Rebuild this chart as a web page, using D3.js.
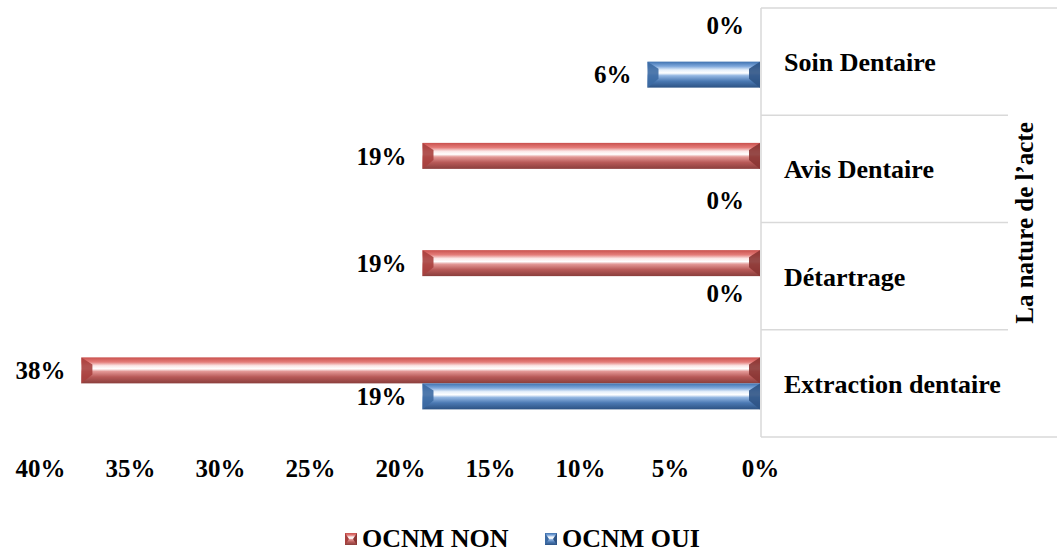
<!DOCTYPE html>
<html><head><meta charset="utf-8">
<script src="https://cdn.jsdelivr.net/npm/d3@7"></script>
<style>html,body{margin:0;padding:0;background:#fff;}svg{display:block;}</style>
</head><body>
<svg id="chart" width="1057" height="553"></svg>
<script>
const categories = ["Soin Dentaire", "Avis Dentaire", "Détartrage", "Extraction dentaire"];
const seriesNames = ["OCNM NON", "OCNM OUI"];
const valuesNON = [0, 0.1875, 0.1875, 0.377];
const valuesOUI = [0.0625, 0, 0, 0.1875];
const tickValues = [0, 0.05, 0.10, 0.15, 0.20, 0.25, 0.30, 0.35, 0.40];
const groupTitle = "La nature de l\u2019acte";

const svg = d3.select("#chart");
const FONT = "'Liberation Serif','Times New Roman',serif";
const W = 1057;

const x = d3.scaleLinear().domain([0, 0.4]).range([760, 40]);
const y = d3.scaleBand().domain(categories).range([8, 437]).padding(0);
const barH = 26;
const y1 = d3.scaleBand().domain(seriesNames)
  .range([y.bandwidth() / 2 - barH, y.bandwidth() / 2 + barH]).padding(0);

// gradients
const defs = svg.append("defs");
const pal = {
  "OCNM NON": {stops: [["0%","#c9504d"],["18%","#e47c79"],["32%","#fbe6e6"],["44%","#ffffff"],["54%","#e39896"],["75%","#b85a58"],["100%","#8a3e3c"]], cap: "#a8403e", cap2: "#8a3533"},
  "OCNM OUI": {stops: [["0%","#3f72b0"],["18%","#7fa8dc"],["32%","#e6f0fb"],["44%","#ffffff"],["54%","#94b7e2"],["75%","#4b79b3"],["100%","#2c5283"]], cap: "#3c6aa3", cap2: "#2d5385"}
};
seriesNames.forEach((s, i) => {
  const g = defs.append("linearGradient").attr("id", "g" + i)
    .attr("x1", 0).attr("y1", 0).attr("x2", 0).attr("y2", 1);
  pal[s].stops.forEach(st => g.append("stop").attr("offset", st[0]).attr("stop-color", st[1]));
});

// frame lines
const lineCol = "#d9d9d9";
svg.append("line").attr("x1", 761).attr("x2", W).attr("y1", 8).attr("y2", 8).attr("stroke", lineCol).attr("stroke-width", 1.5);
svg.append("line").attr("x1", 761).attr("x2", W).attr("y1", 437).attr("y2", 437).attr("stroke", lineCol).attr("stroke-width", 1.5);
svg.append("line").attr("x1", 761).attr("x2", 761).attr("y1", 8).attr("y2", 437).attr("stroke", lineCol).attr("stroke-width", 1.5);
categories.slice(1).forEach(c => {
  svg.append("line").attr("x1", 761).attr("x2", 1008).attr("y1", y(c)).attr("y2", y(c))
    .attr("stroke", lineCol).attr("stroke-width", 1.5);
});

// bars
const data = [];
categories.forEach((c, i) => {
  data.push({cat: c, s: seriesNames[0], si: 0, v: valuesNON[i]});
  data.push({cat: c, s: seriesNames[1], si: 1, v: valuesOUI[i]});
});

const bars = svg.append("g");
data.filter(d => d.v > 0).forEach(d => {
  const x0 = x(d.v), x1 = x(0);
  const y0 = y(d.cat) + y1(d.s), yb = y0 + barH;
  const b = 11;
  const g = bars.append("g");
  g.append("rect").attr("x", x0).attr("y", y0).attr("width", x1 - x0).attr("height", barH)
    .attr("fill", `url(#g${d.si})`);
  g.append("polygon").attr("points", [[x0, y0], [x0 + b, y0 + 7], [x0 + b, yb - 9], [x0, yb]].map(p => p.join(",")).join(" "))
    .attr("fill", pal[d.s].cap).attr("opacity", 0.9);
  g.append("polygon").attr("points", [[x1, y0], [x1 - b, y0 + 7], [x1 - b, yb - 9], [x1, yb]].map(p => p.join(",")).join(" "))
    .attr("fill", pal[d.s].cap2).attr("opacity", 0.9);
});

// value labels (zero labels nudged as in the original layout)
const fmt = d3.format(".0%");
const zeroNudge = {"Soin Dentaire|OCNM NON": -23, "Avis Dentaire|OCNM OUI": 18, "Détartrage|OCNM OUI": 4};
svg.append("g").selectAll("text").data(data).join("text")
  .attr("x", d => x(d.v) - 16)
  .attr("y", d => y(d.cat) + y1(d.s) + barH / 2 + (zeroNudge[d.cat + "|" + d.s] || 0))
  .attr("dy", "0.35em")
  .attr("text-anchor", "end")
  .attr("font-family", FONT).attr("font-weight", "bold").attr("font-size", 25)
  .text(d => fmt(d.v));

// x axis
const ax = svg.append("g").attr("transform", "translate(0,459)")
  .call(d3.axisBottom(x).tickValues(tickValues).tickFormat(fmt).tickSize(0).tickPadding(0));
ax.select(".domain").remove();
ax.selectAll("text").attr("font-family", FONT).attr("font-weight", "bold").attr("font-size", 25)
  .attr("fill", "#000").attr("dy", "0.71em");

// category labels
svg.append("g").selectAll("text").data(categories).join("text")
  .attr("x", 784).attr("y", d => y(d) + y.bandwidth() / 2 + 9.5)
  .attr("font-family", FONT).attr("font-weight", "bold").attr("font-size", 26)
  .text(d => d);

// group title
svg.append("text").attr("transform", "translate(1033,223) rotate(-90)")
  .attr("text-anchor", "middle")
  .attr("font-family", FONT).attr("font-weight", "bold").attr("font-size", 25)
  .text(groupTitle);

// legend
const legX = [345, 545];
seriesNames.forEach((s, i) => {
  const g = svg.append("g").attr("transform", `translate(${legX[i]},533)`);
  g.append("rect").attr("width", 12).attr("height", 12).attr("fill", `url(#g${i})`);
  g.append("polygon").attr("points", "0,0 4,6 0,12").attr("fill", pal[s].cap);
  g.append("polygon").attr("points", "12,0 8,6 12,12").attr("fill", pal[s].cap2);
  g.append("text").attr("x", 17).attr("y", 14)
    .attr("font-family", FONT).attr("font-weight", "bold").attr("font-size", 26)
    .text(s);
});
</script>
</body></html>
